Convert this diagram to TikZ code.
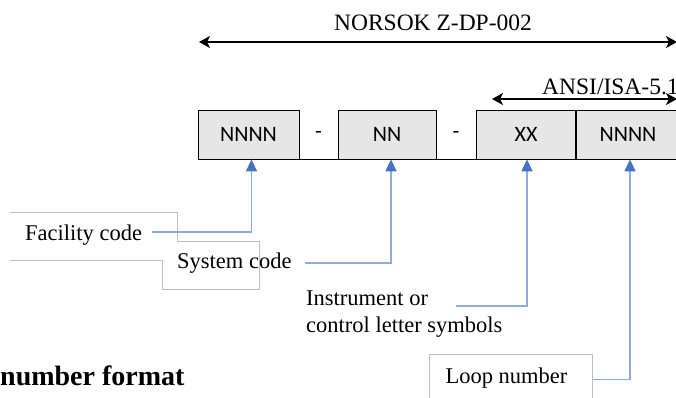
\documentclass[tikz,border=0pt]{standalone}
\usepackage{fontspec}
\setmainfont{Liberation Serif}
\newfontfamily\cellfont{Carlito}
\usetikzlibrary{arrows.meta,calc}
\definecolor{cellgray}{HTML}{E7E6E6}
\definecolor{linkblue}{HTML}{8FAADC}
\definecolor{tipblue}{HTML}{4472C4}
\definecolor{framegray}{HTML}{BFBFBF}

\begin{document}
\begin{tikzpicture}[x=1pt,y=-1pt,
  cell/.style={draw=black,line width=0.8pt,fill=cellgray,minimum height=49pt,
    inner sep=0pt,font=\cellfont\fontsize{22}{26}\selectfont},
  gapcell/.style={minimum height=49pt,inner sep=0pt,
    font=\cellfont\fontsize{22}{26}\selectfont},
  span/.style={line width=1.8pt,
    {Stealth[length=11pt,width=12pt,inset=3pt]}-{Stealth[length=11pt,width=12pt,inset=3pt]}},
  conn/.style={draw=linkblue,line width=1.4pt,
    -{Triangle[length=12pt,width=11pt,color=tipblue]}},
  lbl/.style={font=\fontsize{22.5}{27}\selectfont,inner sep=0pt},
  stdlbl/.style={font=\fontsize{23.5}{28}\selectfont,inner sep=0pt},
  frame/.style={draw=framegray,line width=0.8pt}]

\useasboundingbox (0,0) rectangle (676,397);

% tag field cells
\node[cell,minimum width=101pt] (c1) at (248.5,134.5) {NNNN};
\node[gapcell,minimum width=39pt] (d1) at (318.5,134.5) {-};
\node[cell,minimum width=98pt] (c2) at (387,134.5) {NN};
\node[gapcell,minimum width=40pt] (d2) at (456,134.5) {-};
\node[cell,minimum width=100pt] (c3) at (526,134.5) {XX};
\node[cell,minimum width=104pt] (c4) at (628,134.5) {NNNN};
\draw[line width=1.8pt] (c1.south west) -- (c4.south east);
\draw[line width=2pt] (c3.north east) -- (c3.south east);

% standard spans
\node[stdlbl,anchor=base] (norsok) at (433,30) {NORSOK Z-DP-002};
\coordinate (nL) at (199,42);
\coordinate (nR) at (677,42);
\draw[span] (nL) -- (nR);

\node[stdlbl,anchor=base west] (ansi) at (542,94) {ANSI/ISA-5.1};
\coordinate (aL) at (492,99);
\coordinate (aR) at (677,99);
\draw[span] (aL) -- (aR);

% label frames
\draw[frame] (10,212) -- (177,212) -- (177,241) -- (259,241) -- (259,289)
  -- (162,289) -- (162,260) -- (10,260);
\node[frame,draw,anchor=north west,minimum width=163pt,minimum height=50pt,
  inner sep=0pt] (loopbox) at (429,354) {};

% labels
\node[lbl,anchor=base west] (fac) at (25,240) {Facility code};
\node[lbl,anchor=base west] (sys) at (177,268) {System code};
\node[lbl,anchor=base west,align=left] (inst1) at (306,305) {Instrument or};
\node[lbl,anchor=base west,align=left] (inst2) at (306,332) {control letter symbols};
\node[lbl,anchor=base] (loop) at (506.5,383) {Loop number};
\node[font=\bfseries\fontsize{28}{33}\selectfont,inner sep=0pt,anchor=base west]
  (fmt) at (0,385) {number format};

% connectors
\coordinate (facout) at (152,232);
\coordinate (sysout) at (305,263);
\coordinate (instout) at (456,306);
\draw[conn] (facout) -| ([xshift=3pt]c1.south);
\draw[conn] (sysout) -| ([xshift=4pt]c2.south);
\draw[conn] (instout) -| ([xshift=1pt]c3.south);
\draw[conn] (loopbox.east) -| ([xshift=2pt]c4.south);

\end{tikzpicture}
\end{document}
